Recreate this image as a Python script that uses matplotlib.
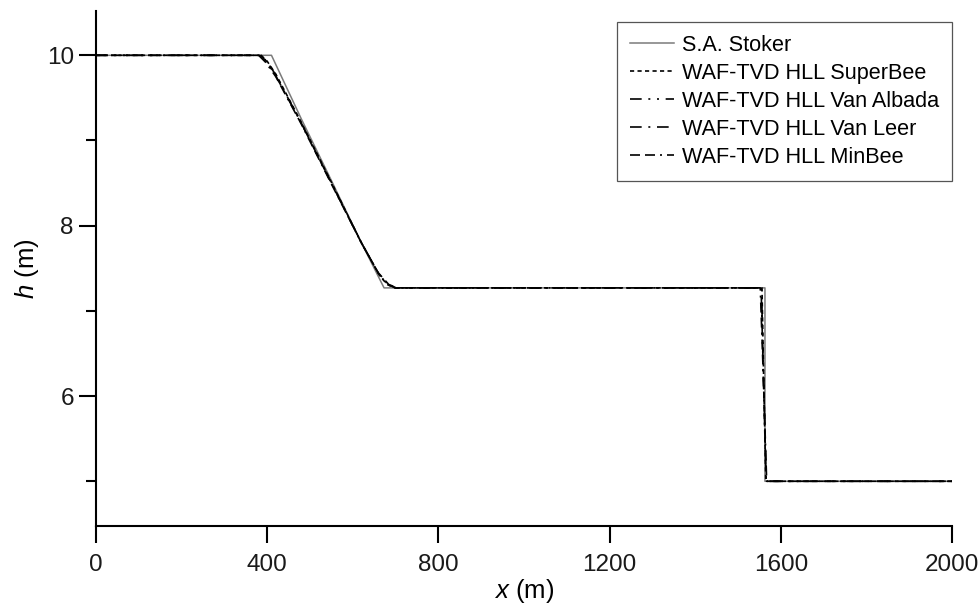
import matplotlib
matplotlib.use("Agg")
import matplotlib.pyplot as plt
from matplotlib.ticker import MultipleLocator

plt.rcParams['font.family'] = ['Liberation Sans', 'DejaVu Sans']
plt.rcParams['mathtext.fontset'] = 'custom'
plt.rcParams['mathtext.rm'] = 'Liberation Sans'
plt.rcParams['mathtext.it'] = 'Liberation Sans:italic'

# Data
stoker_x = [0, 410, 480, 550, 620, 673, 1563, 1563, 2000]
stoker_h = [10.0, 10.0, 9.25, 8.53, 7.80, 7.27, 7.27, 5.0, 5.0]

superbee_x = [0, 386, 400, 420, 480, 550, 620, 662, 680, 698, 1556, 1560, 1565, 2000]
superbee_h = [10.0, 10.0, 9.93, 9.78, 9.21, 8.51, 7.80, 7.42, 7.31, 7.27, 7.27, 6.2, 5.0, 5.0]

vanalbada_x = [0, 384, 399, 420, 480, 550, 620, 661, 681, 700, 1555, 1559, 1566, 2000]
vanalbada_h = [10.0, 10.0, 9.93, 9.77, 9.20, 8.50, 7.80, 7.43, 7.31, 7.27, 7.27, 6.3, 5.0, 5.0]

vanleer_x = [0, 383, 398, 420, 480, 550, 620, 660, 682, 701, 1554, 1559, 1566, 2000]
vanleer_h = [10.0, 10.0, 9.93, 9.76, 9.20, 8.50, 7.80, 7.44, 7.31, 7.27, 7.27, 6.3, 5.0, 5.0]

minbee_x = [0, 380, 396, 420, 480, 550, 620, 659, 684, 704, 1552, 1558, 1567, 2000]
minbee_h = [10.0, 10.0, 9.92, 9.75, 9.19, 8.49, 7.80, 7.45, 7.31, 7.27, 7.27, 6.4, 5.0, 5.0]

labels = ['S.A. Stoker', 'WAF-TVD HLL SuperBee', 'WAF-TVD HLL Van Albada',
          'WAF-TVD HLL Van Leer', 'WAF-TVD HLL MinBee']

x_ticks = [0, 400, 800, 1200, 1600, 2000]
y_ticks = [6, 8, 10]

fig = plt.figure(figsize=(9.8, 6.1), dpi=100)
ax = fig.add_axes([96/980, 1-526/610, (952-96)/980, (526-11)/610])

ax.plot(stoker_x, stoker_h, color='#7a7a7a', lw=1.1, label=labels[0])
ax.plot(superbee_x, superbee_h, color='black', lw=1.2, linestyle=(0, (2.5, 2)), label=labels[1])
ax.plot(vanalbada_x, vanalbada_h, color='black', lw=1.2,
        linestyle=(0, (7, 4, 1.2, 4, 1.2, 4)), label=labels[2])
ax.plot(vanleer_x, vanleer_h, color='black', lw=1.2,
        linestyle=(0, (7, 4, 1.2, 4)), label=labels[3])
ax.plot(minbee_x, minbee_h, color='black', lw=1.2,
        linestyle=(0, (6, 3, 6, 3, 1.2, 3)), label=labels[4])

ax.set_xlim(0, 2000)
ax.set_ylim(4.475, 10.52)
ax.set_xticks(x_ticks)
ax.set_yticks(y_ticks)
ax.yaxis.set_minor_locator(MultipleLocator(1))

for s in ['top', 'right']:
    ax.spines[s].set_visible(False)
for s in ['left', 'bottom']:
    ax.spines[s].set_linewidth(1.5)

ax.tick_params(axis='both', which='major', direction='out', length=12, width=1.5,
               labelsize=17.5)
ax.tick_params(axis='x', which='major', pad=8)
ax.tick_params(axis='y', which='major', pad=4)
ax.tick_params(axis='y', which='minor', direction='out', length=7, width=1.5)
ax.tick_params(axis='x', which='minor', length=0)
for lab in ax.get_xticklabels() + ax.get_yticklabels():
    lab.set_color('#1a1a1a')

ax.set_xlabel(r'$x$ (m)', fontsize=18.5, labelpad=1)
ax.set_ylabel(r'$h$ (m)', fontsize=18.5, labelpad=4)

leg = ax.legend(loc='upper right', bbox_to_anchor=(1.0, 1 - 11/515), fontsize=15.6,
                frameon=True, fancybox=False, edgecolor='#555555', framealpha=1,
                handlelength=2.05, handletextpad=0.35, labelspacing=0.32,
                borderpad=0.6, borderaxespad=0)
leg.get_frame().set_linewidth(0.9)

fig.savefig('out.png', dpi=100)
